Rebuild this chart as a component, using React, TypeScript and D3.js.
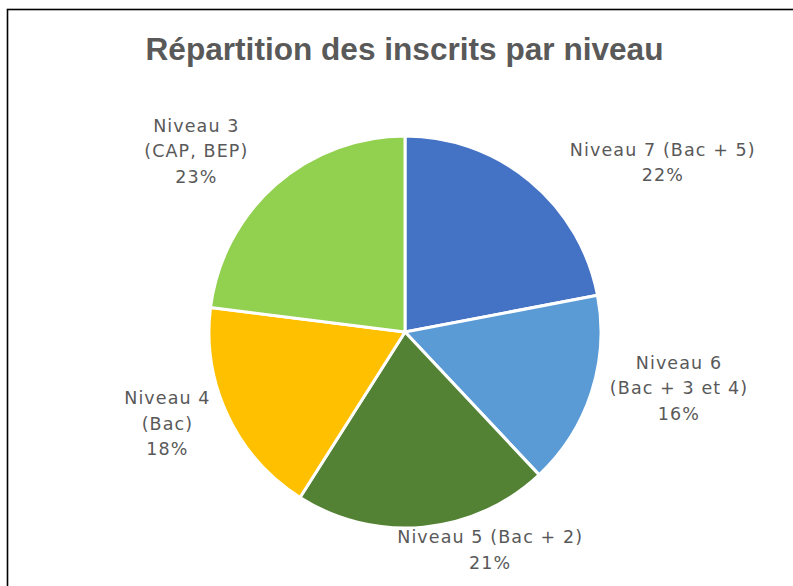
import React from "react";
import * as d3 from "d3";

const W = 793;
const H = 586;

const title = "Répartition des inscrits par niveau";
const categories = [
  "Niveau 7 (Bac + 5)",
  "Niveau 6 (Bac + 3 et 4)",
  "Niveau 5 (Bac + 2)",
  "Niveau 4 (Bac)",
  "Niveau 3 (CAP, BEP)",
];
const labelLines = [
  ["Niveau 7 (Bac + 5)"],
  ["Niveau 6", "(Bac + 3 et 4)"],
  ["Niveau 5 (Bac + 2)"],
  ["Niveau 4", "(Bac)"],
  ["Niveau 3", "(CAP, BEP)"],
];
const values = [22, 16, 21, 18, 23];
const colors = ["#4472C4", "#5B9BD5", "#548235", "#FFC000", "#92D050"];

// layout: label nudges (px) from the label-ring centroid, as Excel's best-fit placement
const labelNudge: [number, number][] = [
  [101, 20],
  [40, -20],
  [62, -27],
  [-15, -13],
  [-46, 4],
];

export default function App() {
  const cx = 405;
  const cy = 332;
  const R = 196;
  const total = d3.sum(values);
  const pie = d3
    .pie<number>()
    .sort(null)
    .value((d) => d)(values);
  const arc = d3.arc<d3.PieArcDatum<number>>().innerRadius(0).outerRadius(R);
  const labelArc = d3
    .arc<d3.PieArcDatum<number>>()
    .innerRadius(R + 50)
    .outerRadius(R + 50);
  const fmt = d3.format(".0%");
  const lineH = 25.5;
  const textColor = "#595959";

  return (
    <div style={{ position: "fixed", left: 0, top: 0 }}>
      <svg width={W} height={H} style={{ display: "block", background: "#fff" }}>
        <rect x={7.5} y={9.5} width={820} height={620} fill="#fff" stroke="#000" strokeWidth={1.6} />
        <text
          x={404.5}
          y={60}
          textAnchor="middle"
          fontFamily="Liberation Sans, Arial, sans-serif"
          fontWeight="bold"
          fontSize={31.6}
          fill={textColor}
        >
          {title}
        </text>
        <g transform={`translate(${cx},${cy})`}>
          {pie.map((p, i) => (
            <path key={categories[i]} d={arc(p) || ""} fill={colors[i]} stroke="#fff" strokeWidth={3} strokeLinejoin="round" />
          ))}
          {pie.map((p, i) => {
            const [lx, ly] = labelArc.centroid(p);
            const x = lx + labelNudge[i][0];
            const y = ly + labelNudge[i][1];
            const lines = [...labelLines[i], fmt(values[i] / total)];
            const y0 = y - ((lines.length - 1) * lineH) / 2;
            return (
              <text
                key={"l" + i}
                x={x}
                y={y0}
                textAnchor="middle"
                fontFamily="DejaVu Sans, sans-serif"
                fontSize={17.5}
                letterSpacing={1.1}
                fill={textColor}
                dominantBaseline="central"
              >
                {lines.map((t, j) => (
                  <tspan key={j} x={x} y={y0 + j * lineH}>
                    {t}
                  </tspan>
                ))}
              </text>
            );
          })}
        </g>
      </svg>
    </div>
  );
}
